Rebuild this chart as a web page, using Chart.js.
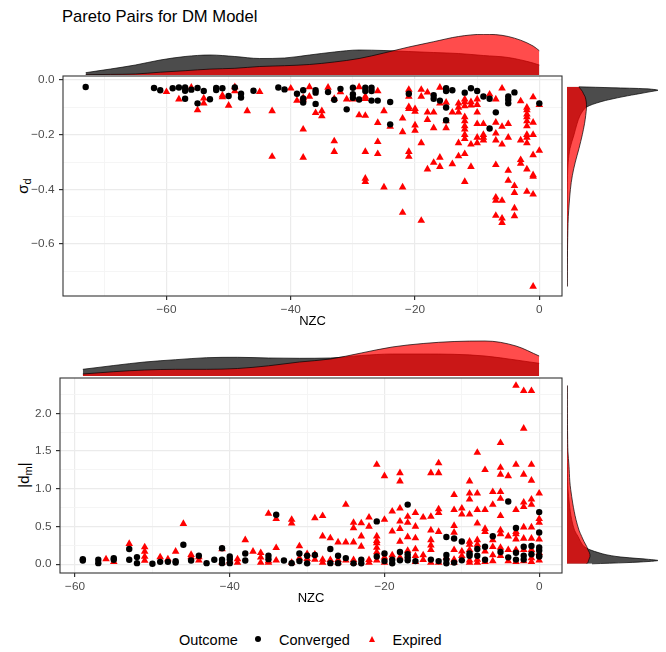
<!DOCTYPE html>
<html>
<head>
<meta charset="utf-8">
<title>Pareto Pairs for DM Model</title>
<script src="https://cdn.jsdelivr.net/npm/chart.js@4.4.1/dist/chart.umd.min.js"></script>
<style>
  body { margin: 0; background: #fff; }
  #wrap { position: relative; width: 666px; height: 652px; font-family: "Liberation Sans", Arial, sans-serif; color: #000; }
  #wrap canvas { position: absolute; }
  .title { position: absolute; left: 62px; top: 9px; font-size: 16.6px; line-height: 16.6px; white-space: nowrap; }
  .ytitle { position: absolute; transform: translate(-50%, -50%) rotate(-90deg); font-size: 15px; line-height: 15px; white-space: nowrap; }
  .ytitle sub { font-size: 11px; vertical-align: -3px; line-height: 0; }
  .leg { position: absolute; top: 632.7px; font-size: 14.5px; line-height: 14.5px; white-space: nowrap; }
  .dot { position: absolute; width: 6px; height: 6px; border-radius: 50%; background: #000; }
  .tri { position: absolute; width: 0; height: 0; border-left: 3.8px solid transparent; border-right: 3.8px solid transparent; border-bottom: 6.4px solid #ff0000; }
</style>
</head>
<body>
<div id="wrap">
  <div class="title">Pareto Pairs for DM Model</div>
  <div class="ytitle" style="left:22px; top:186px">σ<sub>d</sub></div>
  <div class="ytitle" style="left:23px; top:475px">|d<sub>m</sub>|</div>

  <canvas id="topMargX" width="570" height="46" style="left:0; top:30px"></canvas>
  <canvas id="topScatter" width="570" height="263" style="left:0; top:70px"></canvas>
  <canvas id="topMargY" width="104" height="220" style="left:562px; top:76px"></canvas>

  <canvas id="botMargX" width="570" height="43" style="left:0; top:334px"></canvas>
  <canvas id="botScatter" width="570" height="240" style="left:0; top:370px"></canvas>
  <canvas id="botMargY" width="104" height="195" style="left:562px; top:378px"></canvas>

  <div class="leg" style="left:179px">Outcome</div>
  <span class="dot" style="left:255.3px; top:636px"></span>
  <div class="leg" style="left:279px">Converged</div>
  <span class="tri" style="left:369px; top:635.6px"></span>
  <div class="leg" style="left:392.5px">Expired</div>
</div>

<script>
const FONT = '"Liberation Sans", Arial, sans-serif';

// ---- top panel: NZC vs sigma_d ----
const topConverged = [
  [-73,-0.025],[-62,-0.029],[-61,-0.037],[-59,-0.03],[-58,-0.027],[-57,-0.027],[-57,-0.039],[-57,-0.068],
  [-56,-0.035],[-55,-0.029],[-55,-0.085],[-54,-0.04],[-53,-0.07],[-52,-0.029],[-52,-0.036],[-51,-0.03],
  [-50,-0.058],[-49,-0.027],[-48,-0.05],[-48,-0.064],[-46,-0.039],[-42,-0.027],[-41,-0.034],[-39,-0.05],
  [-38,-0.037],[-38,-0.067],[-38,-0.082],[-36,-0.037],[-36,-0.046],[-36,-0.087],[-34,-0.044],[-33,-0.072],
  [-32,-0.032],[-31,-0.107],[-30,-0.028],[-30,-0.052],[-30,-0.065],[-29,-0.071],[-28,-0.028],[-28,-0.04],
  [-27,-0.028],[-27,-0.04],[-27,-0.075],[-26,-0.075],[-24,-0.08],[-24,-0.162],[-21,-0.05],[-17,-0.055],
  [-17,-0.068],[-16,-0.075],[-15,-0.03],[-15,-0.04],[-15,-0.1],[-15,-0.147],[-14,-0.037],[-12,-0.046],
  [-11,-0.03],[-10,-0.04],[-9,-0.06],[-8,-0.068],[-8,-0.177],[-7,-0.118],[-5,-0.06],[-5,-0.072],
  [-5,-0.085],[-4,-0.045],[0,-0.085]
];
const topExpired = [
  [-60,-0.043],[-58,-0.07],[-56,-0.027],[-55,-0.11],[-54,-0.067],[-54,-0.085],[-51,-0.056],[-51,-0.062],
  [-50,-0.093],[-49,-0.025],[-49,-0.04],[-47,-0.113],[-45,-0.043],[-43,-0.113],[-43,-0.28],[-40,-0.03],
  [-39,-0.075],[-38,-0.065],[-38,-0.07],[-38,-0.18],[-38,-0.283],[-37,-0.025],[-37,-0.06],[-36,-0.12],
  [-35,-0.113],[-35,-0.132],[-34,-0.027],[-33,-0.068],[-33,-0.223],[-33,-0.262],[-32,-0.044],[-31,-0.07],
  [-30,-0.07],[-29,-0.025],[-29,-0.128],[-28,-0.06],[-28,-0.068],[-28,-0.13],[-28,-0.262],[-28,-0.36],
  [-28,-0.372],[-26,-0.04],[-26,-0.156],[-26,-0.226],[-26,-0.27],[-25,-0.113],[-25,-0.392],[-24,-0.17],
  [-22,-0.14],[-22,-0.19],[-22,-0.392],[-22,-0.485],[-21,-0.035],[-21,-0.06],[-21,-0.098],[-21,-0.105],
  [-21,-0.262],[-21,-0.28],[-20,-0.105],[-20,-0.115],[-20,-0.165],[-20,-0.185],[-19,-0.035],[-19,-0.06],
  [-19,-0.23],[-19,-0.514],[-18,-0.045],[-18,-0.118],[-18,-0.145],[-18,-0.326],[-17,-0.118],[-17,-0.175],
  [-17,-0.302],[-16,-0.027],[-16,-0.085],[-16,-0.283],[-16,-0.317],[-15,-0.082],[-15,-0.15],[-15,-0.175],
  [-14,-0.118],[-14,-0.307],[-13,-0.085],[-13,-0.1],[-13,-0.118],[-13,-0.23],[-13,-0.278],[-12,-0.07],
  [-12,-0.08],[-12,-0.095],[-12,-0.135],[-12,-0.15],[-12,-0.168],[-12,-0.18],[-12,-0.2],[-12,-0.215],
  [-12,-0.27],[-12,-0.372],[-11,-0.08],[-11,-0.092],[-11,-0.235],[-11,-0.317],[-10,-0.07],[-10,-0.09],
  [-10,-0.118],[-10,-0.16],[-10,-0.21],[-10,-0.23],[-9,-0.16],[-9,-0.2],[-9,-0.21],[-9,-0.22],
  [-8,-0.052],[-7,-0.07],[-7,-0.155],[-7,-0.195],[-7,-0.22],[-7,-0.31],[-7,-0.429],[-7,-0.441],
  [-7,-0.496],[-6,-0.03],[-6,-0.17],[-6,-0.235],[-6,-0.441],[-6,-0.506],[-6,-0.522],[-5,-0.16],
  [-5,-0.21],[-5,-0.331],[-5,-0.368],[-4,-0.387],[-4,-0.412],[-4,-0.469],[-4,-0.497],[-3,-0.077],
  [-3,-0.22],[-3,-0.292],[-3,-0.305],[-2,-0.1],[-2,-0.11],[-2,-0.125],[-2,-0.135],[-2,-0.15],
  [-2,-0.168],[-2,-0.2],[-2,-0.21],[-2,-0.23],[-2,-0.326],[-2,-0.408],[-1,-0.062],[-1,-0.155],
  [-1,-0.2],[-1,-0.274],[-1,-0.347],[-1,-0.353],[-1,-0.418],[-1,-0.755],[0,-0.09],[0,-0.258]
];
const topXRange = [-76.65, 3.65];
const topYRange = [-0.79, 0.015];
const topXMajor = [-60, -40, -20, 0];
const topXMinor = [-70, -50, -30, -10];
const topYMajor = [-0.6, -0.4, -0.2, 0];
const topYMinor = [-0.7, -0.5, -0.3, -0.1];

// marginal densities of the top panel (relative heights)
const topDensNzc = [-73,-69,-65,-61,-57,-53,-49,-45,-41,-37,-33,-29,-25,-21,-17,-13,-9,-5,-1,0];
const topDensNzcConverged = [2.3,6,10,15,18.5,20,18.5,16.5,17,20,23,25,24.5,23.5,22.5,21.5,19.5,17.5,12,10];
const topDensNzcExpired = [0.3,0.6,1,2.8,4.3,5.9,6.7,8.5,9.3,10.5,13,16.5,22,28,33.3,38.5,40.7,38.5,29,24.3];
const topDensSigma = [-0.0245,-0.028,-0.032,-0.037,-0.042,-0.05,-0.06,-0.07,-0.08,-0.1,-0.13,-0.16,-0.2,-0.25,-0.3,-0.35,-0.4,-0.5,-0.6,-0.7,-0.755];
const topDensSigmaConverged = [12,45,80,91,84,72,57,44,33,19,13,10,7,3,1.2,0.5,0.3,0.2,0.1,0.1,0.1];
const topDensSigmaExpired = [12,12.5,13.5,14.5,15.5,16.5,18,18.8,19.3,19.5,18.7,17.5,15.3,12,8.3,5.3,3.4,1.3,0.6,0.3,0.2];

// ---- bottom panel: NZC vs |d_m| ----
const botConverged = [
  [-59,0.066],[-59,0.048],[-57,0.057],[-57,0.013],[-55,0.08],[-55,0.057],[-53,0.2],[-53,0.057],
  [-52,0.093],[-52,0.013],[-50,0.004],[-49,0.03],[-48,0.03],[-47,0.04],[-47,0.02],[-46,0.257],
  [-45,0.048],[-44,0.11],[-43,0.013],[-42,0.057],[-41,0.21],[-41,0.057],[-41,0.013],[-40,0.1],
  [-40,0.066],[-40,0.013],[-38,0.14],[-38,0.048],[-35,0.11],[-35,0.066],[-34,0.655],[-33,0.048],
  [-32,0.013],[-31,0.14],[-31,0.04],[-30,0.11],[-30,0.01],[-29,0.12],[-27,0.2],[-27,0.013],
  [-26,0.11],[-26,0.013],[-25,0.08],[-24,0.01],[-23,0.057],[-23,0.01],[-21,0.567],[-21,0.1],
  [-20,0.14],[-20,0.04],[-19,0.057],[-19,0.01],[-18,0.16],[-18,0.05],[-17,0.79],[-17,0.13],
  [-17,0.09],[-17,0.05],[-16,0.04],[-14,0.06],[-13,0.04],[-12,0.36],[-12,0.12],[-12,0.06],
  [-12,0.01],[-11,0.34],[-11,0.02],[-10,0.3],[-10,0.05],[-9,0.14],[-9,0.11],[-8,0.2],
  [-8,0.11],[-7,0.23],[-7,0.057],[-6,0.37],[-5,0.16],[-4,0.83],[-4,0.09],[-3,0.48],
  [-3,0.15],[-3,0.06],[-2,0.23],[-2,0.11],[-2,0.06],[-1,0.24],[-1,0.13],[0,0.69],
  [0,0.42],[0,0.22],[0,0.18],[0,0.11],[0,0.1]
];
const botExpired = [
  [-56,0.066],[-55,0.03],[-53,0.27],[-51,0.226],[-51,0.168],[-51,0.1],[-51,0.048],[-49,0.093],
  [-48,0.066],[-47,0.168],[-46,0.536],[-45,0.124],[-45,0.093],[-44,0.093],[-44,0.05],[-41,0.2],
  [-41,0.02],[-40,0.04],[-39,0.066],[-39,0.02],[-38,0.32],[-37,0.168],[-36,0.15],[-36,0.09],
  [-36,0.02],[-35,0.67],[-35,0.04],[-35,0.02],[-34,0.6],[-34,0.216],[-34,0.05],[-32,0.59],
  [-32,0.54],[-32,0.02],[-31,0.24],[-31,0.08],[-30,0.137],[-30,0.07],[-29,0.61],[-29,0.13],
  [-29,0.06],[-28,0.64],[-28,0.37],[-28,0.06],[-28,0.02],[-27,0.345],[-27,0.057],[-26,0.29],
  [-26,0.057],[-26,0.02],[-25,0.79],[-25,0.29],[-25,0.05],[-24,0.55],[-24,0.48],[-24,0.29],
  [-24,0.057],[-24,0.02],[-23,0.545],[-23,0.37],[-23,0.234],[-22,0.62],[-22,0.5],[-22,0.057],
  [-22,0.02],[-21,1.32],[-21,0.37],[-21,0.31],[-21,0.28],[-21,0.22],[-21,0.16],[-21,0.05],
  [-20,1.17],[-20,0.59],[-20,0.09],[-20,0.02],[-19,0.7],[-19,0.434],[-19,0.12],[-18,1.21],
  [-18,1.1],[-18,0.74],[-18,0.567],[-18,0.47],[-18,0.3],[-18,0.09],[-17,0.63],[-17,0.55],
  [-17,0.36],[-17,0.18],[-16,0.68],[-16,0.5],[-16,0.345],[-16,0.2],[-16,0.11],[-16,0.03],
  [-15,0.62],[-15,0.12],[-15,0.057],[-14,1.21],[-14,0.63],[-14,0.45],[-14,0.32],[-14,0.25],
  [-14,0.19],[-14,0.02],[-13,1.34],[-13,1.21],[-13,0.73],[-13,0.68],[-13,0.43],[-13,0.02],
  [-12,0.09],[-11,0.92],[-11,0.72],[-11,0.51],[-11,0.42],[-11,0.19],[-11,0.06],[-11,0.02],
  [-10,0.74],[-10,0.66],[-10,0.17],[-10,0.11],[-9,1.1],[-9,0.94],[-9,0.86],[-9,0.66],
  [-9,0.3],[-9,0.26],[-9,0.19],[-9,0.05],[-9,0.02],[-8,1.48],[-8,0.94],[-8,0.72],
  [-8,0.54],[-8,0.32],[-8,0.26],[-8,0.06],[-8,0.02],[-7,1.25],[-7,0.72],[-7,0.47],
  [-7,0.43],[-7,0.17],[-7,0.03],[-6,0.96],[-6,0.79],[-6,0.32],[-6,0.23],[-6,0.12],
  [-6,0.04],[-5,1.61],[-5,1.28],[-5,1.19],[-5,0.96],[-5,0.87],[-5,0.64],[-5,0.45],
  [-5,0.4],[-5,0.22],[-5,0.11],[-4,1.17],[-4,0.37],[-4,0.19],[-4,0.04],[-3,2.37],
  [-3,1.32],[-3,0.72],[-3,0.43],[-3,0.4],[-3,0.33],[-3,0.19],[-3,0.03],[-2,2.3],
  [-2,1.8],[-2,1.19],[-2,0.82],[-2,0.76],[-2,0.49],[-2,0.34],[-2,0.19],[-2,0.04],
  [-1,2.3],[-1,1.32],[-1,1.11],[-1,0.86],[-1,0.79],[-1,0.49],[-1,0.34],[-1,0.19],
  [-1,0.08],[-1,0.03],[0,0.94],[0,0.6],[0,0.55],[0,0.33],[0,0.15],[0,0.05]
];
const botXRange = [-61.95, 2.95];
const botYRange = [-0.118, 2.47];
const botXMajor = [-60, -40, -20, 0];
const botXMinor = [-50, -30, -10];
const botYMajor = [0, 0.5, 1, 1.5, 2];
const botYMinor = [0.25, 0.75, 1.25, 1.75, 2.25];

const botDensNzc = [-59,-55,-51,-47,-43,-39,-35,-31,-27,-23,-19,-15,-11,-7,-3,0];
const botDensNzcConverged = [6.7,10.5,14,16.3,18.3,18.7,18,17.7,18,20.5,22,22,21.7,20,16,12.7];
const botDensNzcExpired = [2,4.3,6,6.7,6.7,7.5,10.2,14,17,23,29,32.5,34.5,35,30,20];
const botDensDm = [0.004,0.02,0.035,0.048,0.065,0.08,0.1,0.125,0.15,0.19,0.234,0.3,0.367,0.45,0.59,0.7,0.81,0.99,1.1,1.3,1.5,1.7,2.0,2.37];
const botDensDmConverged = [25,60,82,91,80,66,50,39,32,23,17,13.5,11,7.5,4.7,3.3,2.3,1,0.6,0.3,0.1,0.05,0,0];
const botDensDmExpired = [19.7,20.8,21.3,21.5,22,22.5,23,23,22.5,21,19.7,17,14.7,12,9,7.2,5.7,3.7,2.8,2,0.9,0.6,0.4,0.3];

// panel border drawn around the plotting area
const panelBorder = {
  id: 'panelBorder',
  afterDatasetsDraw(chart) {
    const { ctx, chartArea: a } = chart;
    ctx.save();
    ctx.strokeStyle = '#333333';
    ctx.lineWidth = 1.1;
    ctx.strokeRect(a.left, a.top, a.right - a.left, a.bottom - a.top);
    ctx.restore();
  }
};

function fmt(v, digits) {
  return v.toFixed(digits).replace('-', '\u2212');
}

function axis(range, majors, minors, digits, fit, labelPad, titleText) {
  const isMajor = v => majors.some(m => Math.abs(m - v) < 1e-9);
  const opts = {
    type: 'linear',
    min: range[0],
    max: range[1],
    afterBuildTicks: s => { s.ticks = majors.concat(minors).sort((a, b) => a - b).map(v => ({ value: v })); },
    afterFit: s => {
      fit(s);
      // keep the plotting area where the layout puts it
      s.paddingTop = 0; s.paddingBottom = 0; s.paddingLeft = 0; s.paddingRight = 0;
    },
    border: { display: false },
    grid: {
      color: c => (c.tick && isMajor(c.tick.value)) ? '#ebebeb' : '#f4f4f4',
      lineWidth: c => (c.tick && isMajor(c.tick.value)) ? 1.2 : 0.9,
      tickColor: c => (c.tick && isMajor(c.tick.value)) ? '#333333' : 'rgba(0,0,0,0)',
      tickLength: 4
    },
    ticks: {
      color: '#4d4d4d',
      font: { size: 11.8, family: FONT },
      padding: labelPad,
      autoSkip: false,
      maxRotation: 0,
      callback: v => isMajor(v) ? fmt(v, digits) : ''
    }
  };
  if (titleText) {
    opts.title = { display: true, text: titleText, color: '#000', font: { size: 13, family: FONT }, padding: { top: 4, bottom: 4 } };
  }
  return opts;
}

function toPoints(pairs) {
  return pairs.map(p => ({ x: p[0], y: p[1] }));
}

function scatter(id, conv, exp, xr, yr, xMaj, xMin, yMaj, yMin, yWidth, padTop) {
  new Chart(document.getElementById(id), {
    type: 'scatter',
    data: {
      datasets: [
        { label: 'Converged', data: toPoints(conv), pointStyle: 'circle', pointRadius: 3.2, backgroundColor: '#000000', borderWidth: 0 },
        { label: 'Expired', data: toPoints(exp), pointStyle: 'triangle', pointRadius: 4.4, backgroundColor: '#ff0000', borderWidth: 0 }
      ]
    },
    options: {
      responsive: false,
      animation: false,
      events: [],
      devicePixelRatio: 1,
      layout: { padding: { top: padTop, right: 8, left: 0, bottom: 0 } },
      plugins: { legend: { display: false }, tooltip: { enabled: false } },
      scales: {
        x: axis(xr, xMaj, xMin, 0, s => { s.height = 37; }, 3, 'NZC'),
        y: axis(yr, yMaj, yMin, 1, s => { s.width = yWidth; }, 4.5)
      }
    },
    plugins: [panelBorder]
  });
}

function density(id, pad, grid, conv, exp, xr, yr, sideways) {
  const pts = vals => grid.map((g, i) => sideways ? { x: vals[i], y: g } : { x: g, y: vals[i] });
  const common = { pointRadius: 0, borderColor: '#000000', borderWidth: 0.7, fill: 'origin' };
  new Chart(document.getElementById(id), {
    type: 'line',
    data: {
      datasets: [
        Object.assign({ label: 'Expired', data: pts(exp), backgroundColor: 'rgba(255,0,0,0.7)' }, common),
        Object.assign({ label: 'Converged', data: pts(conv), backgroundColor: 'rgba(0,0,0,0.7)' }, common)
      ]
    },
    options: {
      responsive: false,
      animation: false,
      events: [],
      devicePixelRatio: 1,
      indexAxis: sideways ? 'y' : 'x',
      elements: { line: sideways ? { tension: 0.3 } : { cubicInterpolationMode: 'monotone' } },
      layout: { padding: pad },
      plugins: { legend: { display: false }, tooltip: { enabled: false } },
      scales: {
        x: { type: 'linear', display: false, min: xr[0], max: xr[1] },
        y: { type: 'linear', display: false, min: yr[0], max: yr[1] }
      }
    }
  });
}

scatter('topScatter', topConverged, topExpired, topXRange, topYRange,
  topXMajor, topXMinor, topYMajor, topYMinor, 63, 6);
scatter('botScatter', botConverged, botExpired, botXRange, botYRange,
  botXMajor, botXMinor, botYMajor, botYMinor, 60, 8);

density('topMargX', { left: 63, right: 8, top: 4, bottom: 1 }, topDensNzc,
  topDensNzcConverged, topDensNzcExpired, topXRange, [0, 41], false);
density('topMargY', { left: 5, right: 8, top: 0, bottom: 0 }, topDensSigma,
  topDensSigmaConverged, topDensSigmaExpired, [0, 91], topYRange, true);
density('botMargX', { left: 60, right: 8, top: 6, bottom: 1 }, botDensNzc,
  botDensNzcConverged, botDensNzcExpired, botXRange, [0, 36], false);
density('botMargY', { left: 5, right: 8, top: 0, bottom: 0 }, botDensDm,
  botDensDmConverged, botDensDmExpired, [0, 91], botYRange, true);
</script>
</body>
</html>
